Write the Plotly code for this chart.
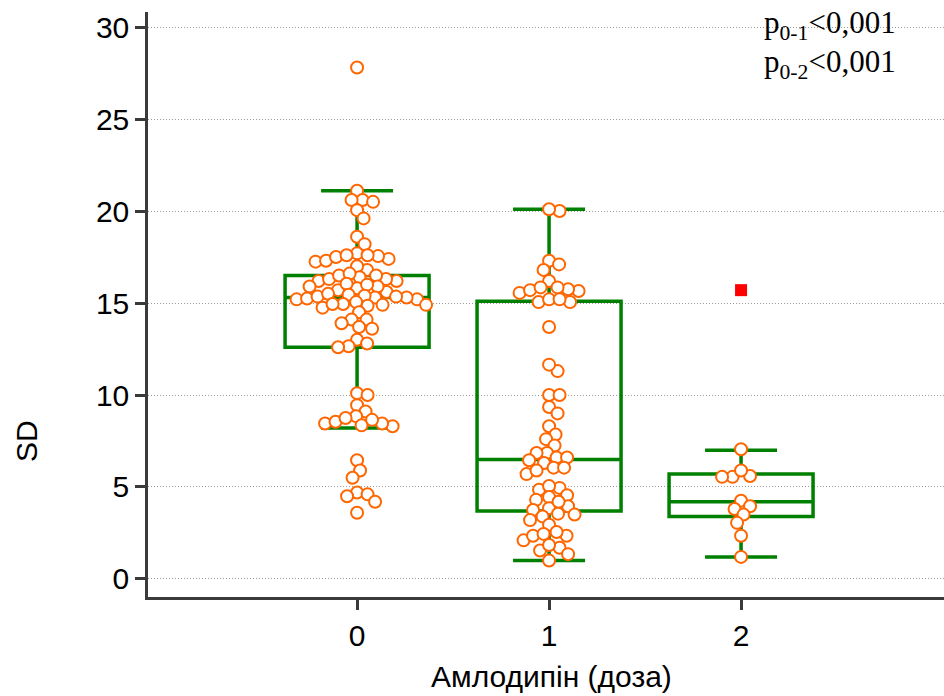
import plotly.graph_objects as go

# ---------------- data ----------------
categories = [0, 1, 2]
tick_labels = ["0", "1", "2"]

dose0 = [27.8, 21.1, 20.6, 20.6, 20.5, 20.05, 19.6, 18.6, 18.2,
         17.25, 17.3, 17.4, 17.7, 17.55, 17.5, 17.6, 17.6,
         16.8, 17.0,
         16.2, 16.2, 16.3, 16.3, 16.4, 16.5, 16.5, 16.6,
         15.6, 15.7, 15.8, 15.9, 15.9, 16.0, 16.05,
         15.2, 15.2, 15.25, 15.3, 15.3, 15.35, 15.35, 15.4, 15.45, 15.5,
         14.75, 14.85, 14.9, 14.9, 14.95, 14.95, 15.05,
         14.5,
         14.1, 14.1, 13.9, 13.7, 13.6,
         13.0, 12.8, 12.65, 12.6,
         10.1, 10.0,
         9.45, 9.1, 8.85,
         8.3, 8.35, 8.45, 8.45, 8.55, 8.65, 8.75,
         6.45, 5.9, 5.5,
         4.7, 4.6, 4.5, 4.2,
         3.6]

dose1 = [20.0, 20.1,
         17.3, 17.1, 16.8,
         16.2,
         15.55, 15.65, 15.7, 15.75, 15.85, 15.85,
         15.05, 15.05, 15.2, 15.2,
         13.7,
         11.3, 11.65,
         10.0, 10.0,
         9.35, 9.0,
         8.3,
         7.85, 7.6,
         7.25,
         6.85, 6.85,
         6.3, 6.45, 6.6, 6.6,
         5.7, 5.9, 6.05, 6.05,
         4.85, 4.95, 5.05,
         4.3, 4.45, 4.55,
         3.85, 3.95, 4.2, 3.75,
         3.4, 3.5, 3.55, 3.2,
         2.95,
         2.1, 2.35, 2.35, 2.45, 2.55,
         1.55, 1.7, 1.85,
         1.0, 1.35]

dose2 = [7.05, 5.55, 5.55, 5.6, 5.9, 4.25, 3.95, 3.8, 3.5, 3.05, 2.35, 1.2]

outlier_x = [2]
outlier_y = [15.7]

# box statistics
q1 = [12.6, 3.7, 3.4]
median = [15.3, 6.5, 4.2]
q3 = [16.5, 15.1, 5.7]
lowerfence = [8.2, 1.0, 1.2]
upperfence = [21.1, 20.1, 7.0]

y_ticks = [0, 5, 10, 15, 20, 25, 30]

# ---------------- layout constants ----------------
W, H = 944, 696
ML, MR, MT, MB = 148, 0, 12, 99
XR = [-1.089, 3.057]
YR = [-0.98, 30.82]
px_per_x = (W - ML - MR) / (XR[1] - XR[0])
px_per_y = (H - MT - MB) / (YR[1] - YR[0])


def swarm_offsets(values, diam=10.5):
    """Deterministic beeswarm: returns x offsets (data units)."""
    placed = []
    offs = [0.0] * len(values)
    order = sorted(range(len(values)), key=lambda i: -values[i])
    for i in order:
        y = values[i] * px_per_y
        chosen = None
        k = 0
        while chosen is None:
            cands = [0.0] if k == 0 else [k * 0.5, -k * 0.5]
            for c in cands:
                if all((c - px) ** 2 + (y - py) ** 2 >= diam ** 2 for px, py in placed):
                    chosen = c
                    break
            k += 1
        placed.append((chosen, y))
        offs[i] = chosen / px_per_x
    return offs


fig = go.Figure()

green = "rgb(0,128,0)"
orange = "rgb(255,102,0)"
axis_col = "#3a3a3a"
font_sans = "Liberation Sans, Arial, sans-serif"
font_serif = "Liberation Serif, Times New Roman, serif"

fig.add_trace(go.Box(
    x=categories, q1=q1, median=median, q3=q3,
    lowerfence=lowerfence, upperfence=upperfence,
    width=0.75, whiskerwidth=0.5, boxpoints=False,
    line=dict(color=green, width=3.5),
    fillcolor="rgba(0,0,0,0)",
    showlegend=False, hoverinfo="skip",
))

for cat, vals in zip(categories, [dose0, dose1, dose2]):
    offs = swarm_offsets(vals)
    fig.add_trace(go.Scatter(
        x=[cat + o for o in offs], y=vals, mode="markers",
        marker=dict(symbol="circle", size=12, color="white",
                    line=dict(color=orange, width=2)),
        showlegend=False, hoverinfo="skip",
    ))

fig.add_trace(go.Scatter(
    x=outlier_x, y=outlier_y, mode="markers",
    marker=dict(symbol="square", size=12, color="red", line=dict(width=0)),
    showlegend=False, hoverinfo="skip",
))

fig.update_layout(
    width=W, height=H,
    margin=dict(l=ML, r=MR, t=MT, b=MB, pad=0),
    paper_bgcolor="white", plot_bgcolor="white",
    font=dict(family=font_sans, size=30, color="black"),
    xaxis=dict(range=XR, tickvals=categories, ticktext=tick_labels,
               ticks="outside", ticklen=10, tickwidth=2.5, tickcolor=axis_col,
               showline=True, linecolor=axis_col, linewidth=2.5,
               showgrid=False, zeroline=False,
               tickfont=dict(size=30, family=font_sans)),
    yaxis=dict(range=YR, tickvals=y_ticks, ticktext=[str(v) for v in y_ticks],
               ticks="outside", ticklen=10, tickwidth=2.5, tickcolor=axis_col,
               showline=True, linecolor=axis_col, linewidth=2.5,
               showgrid=True, gridcolor="#9a9a9a", gridwidth=1, griddash="1px,2px",
               zeroline=False,
               tickfont=dict(size=30, family=font_sans)),
    annotations=[
        dict(text="Амлодипін (доза)", xref="paper", yref="paper",
             x=(551 - ML) / (W - ML - MR), y=-(676 - (H - MB)) / (H - MT - MB),
             xanchor="center", yanchor="middle", showarrow=False,
             font=dict(size=30, family=font_sans, color="black")),
        dict(text="SD", xref="paper", yref="paper", textangle=-90,
             x=(27 - ML) / (W - ML - MR), y=1 - (441 - MT) / (H - MT - MB),
             xanchor="center", yanchor="middle", showarrow=False,
             font=dict(size=30, family=font_sans, color="black")),
        dict(text="p<sub>0-1</sub>&lt;0,001", xref="paper", yref="paper",
             x=(762 - ML) / (W - ML - MR), y=1 - (25 - MT) / (H - MT - MB),
             xanchor="left", yanchor="middle", showarrow=False,
             font=dict(size=31, family=font_serif, color="black")),
        dict(text="p<sub>0-2</sub>&lt;0,001", xref="paper", yref="paper",
             x=(762 - ML) / (W - ML - MR), y=1 - (64 - MT) / (H - MT - MB),
             xanchor="left", yanchor="middle", showarrow=False,
             font=dict(size=31, family=font_serif, color="black")),
    ],
)

fig.write_html("out.html")
